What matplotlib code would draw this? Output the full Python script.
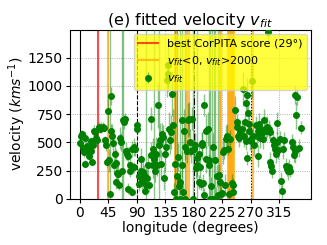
import numpy as np
import matplotlib
matplotlib.use("Agg")
import matplotlib.pyplot as plt

# longitude (deg), fitted velocity (km/s), error (km/s)
lon = [0, 2, 3, 5, 6, 8, 9, 11, 12, 14, 15, 17, 18, 20, 21, 23, 24, 26, 27,
       31, 32, 34, 36, 38, 40, 41, 43, 44, 46, 47, 49, 50, 51, 53, 54, 55, 57,
       58, 59, 61, 62, 64, 65, 66, 68, 70, 71, 73, 74, 76, 77, 79, 80, 82, 83,
       85, 86, 88,
       90, 91, 93, 94, 96, 97, 99, 100, 102, 103, 105, 106, 108, 110, 112, 113,
       115, 116, 118, 119, 121, 122, 124, 125, 127, 129, 130, 131, 133, 134,
       136, 138, 139, 140, 141, 143, 145, 146, 147, 149, 151, 152, 154, 156,
       157, 158, 159, 161, 162, 163, 165, 166, 167, 169, 171, 172, 174, 176,
       177, 179,
       180, 182, 183, 185, 186, 188, 189, 190, 191, 193, 194, 195, 196, 197,
       199, 200, 202, 204, 205, 206, 208, 209, 211, 212, 214, 215, 217, 218,
       220, 221, 223, 225, 227, 228, 230, 231, 233, 235, 236, 238, 240, 242,
       243, 246, 248, 249, 250, 252, 254, 256, 258, 259, 261, 262, 263, 264,
       265, 266, 267, 268, 269, 270, 272, 274, 276, 278, 280, 281, 282, 284,
       285, 287, 288, 290, 291, 294, 296, 297, 299, 300, 301, 302, 304, 305,
       307, 308, 310, 311, 312, 314, 316, 318, 319, 321, 323, 326, 327, 329,
       331, 333, 335, 337, 338, 340, 341, 342, 344, 346, 349]
vel = [490, 560, 570, 450, 410, 310, 540, 430, 470, 380, 440, 510, 420, 330, 480, 600, 590, 540, 520,
       640, 620, 630, 640, 630, 520, 480, 330, 780, 340, 40, 910, 600, 560, 490, 300, 400, 320,
       150, 230, 220, 120, 540, 500, 250, 700, 680, 710, 420, 400, 380, 90, 250, 300, 60, 440,
       460, 280, 440,
       650, 620, 200, 130, 350, 250, 160, 240, 210, 70, 120, 180, 300, 120, 710, 385,
       440, 300, 350, 250, 400, 300, 830, 480, 520, 310, 570, 550, 180, 400,
       460, 1050, 1190, 1110, 620, 520, 590, 930, 650, 60, 310, 0, 200, 370,
       110, 0, 150, 300, 700, 60, 600, 0, 460, 420, 700, 710, 500, 420,
       710, 0,
       445, 480, 270, 357, 300, 150, 400, 280, 130, 490, 475, 136, 830, 33,
       600, 350, 620, 343, 300, 0, 110, 0, 460, 0, 345, 0, 200, 30,
       210, 150, 40, 47, 410, 430, 120, 530, 560, 445, 40, 533, 136, 60,
       120, 790, 640, 680, 560, 540, 600, 620, 970, 560, 680, 850, 510, 920,
       360, 760, 600, 660, 520, 510, 1040, 560, 480, 650, 560, 380, 600, 660,
       540, 620, 580, 530, 700, 600, 640, 1480, 620, 590, 330, 290, 250, 520,
       480, 440, 400, 670, 500, 430, 530, 160, 70, 440, 520, 290, 260, 250,
       280, 250, 500, 460, 390, 420, 920, 740, 905, 450, 630]
err = [40, 50, 40, 50, 40, 30, 50, 40, 60, 40, 50, 40, 60, 30, 40, 50, 40, 50, 60,
       40, 40, 50, 40, 30, 40, 60, 50, 150, 100, 3000, 80, 60, 100, 80, 60, 100, 120,
       60, 80, 80, 40, 100, 80, 3000, 3000, 60, 50, 80, 60, 80, 50, 60, 80, 40, 70,
       80, 50, 60,
       40, 50, 80, 60, 100, 90, 70, 100, 90, 40, 3000, 80, 100, 60, 100, 120,
       100, 120, 3000, 100, 150, 100, 200, 3000, 150, 120, 100, 100, 100, 150,
       100, 150, 200, 150, 150, 120, 150, 200, 150, 80, 3000, 100, 3000, 120,
       80, 3000, 100, 120, 3000, 80, 200, 3000, 120, 100, 150, 150, 120, 100,
       100, 3000,
       80, 100, 90, 3000, 100, 60, 80, 100, 50, 100, 120, 80, 100, 60,
       150, 120, 150, 3000, 100, 3000, 80, 3000, 120, 3000, 3000, 100, 100, 3000,
       100, 80, 80, 40, 100, 80, 100, 120, 100, 60, 50, 80, 80, 40,
       60, 120, 80, 70, 60, 80, 100, 80, 150, 100, 70, 120, 80, 150,
       60, 100, 80, 70, 90, 60, 150, 70, 100, 80, 90, 100, 70, 100,
       90, 80, 70, 90, 100, 80, 90, 100, 80, 70, 80, 60, 70, 90,
       80, 70, 80, 100, 90, 80, 70, 80, 60, 90, 70, 70, 60, 80,
       70, 60, 70, 80, 60, 100, 80, 120, 70, 80, 60]

# longitudes where v_fit < 0 or v_fit > 2000
bad_lon = [44, 150, 153, 170, 173, 221, 223, 235, 236.5, 238, 239.5, 241, 242.5, 244, 274]
best_lon = 29

fig = plt.figure(figsize=(3.27, 2.45), dpi=100)
ax = fig.add_axes([0.213, 0.189, 0.739, 0.69])

ax.axvline(best_lon, color='r', lw=1.5, alpha=0.7, label='best CorPITA score (29°)')
for i, b in enumerate(bad_lon):
    ax.axvline(b, color='orange', lw=1.5, alpha=0.7,
               label=r'$v_{fit}$<0, $v_{fit}$>2000' if i == 0 else None)

ax.axvline(0, color='k', lw=0.8)
ax.axvline(90, color='k', lw=0.8, ls='--')
ax.axvline(180, color='k', lw=0.8, ls='-.')
ax.axvline(270, color='k', lw=0.8, ls=':')

ax.errorbar(lon, vel, yerr=err, fmt='o', color='green', ms=4,
            ecolor=(0, 0.5, 0, 0.45), elinewidth=1, label='$v_{fit}$', zorder=3)

ax.set_xlim(-16, 366)
ax.set_ylim(0, 1500)
ax.set_xticks(np.arange(0, 360, 45))
ax.set_yticks([0, 250, 500, 750, 1000, 1250])
ax.tick_params(labelsize=10, length=3, pad=2)
ax.grid(True, ls=':', color='0.6', lw=0.6)
ax.set_xlabel('longitude (degrees)', fontsize=10, labelpad=1)
ax.set_ylabel('velocity ($kms^{-1}$)', fontsize=10, labelpad=0)
ax.set_title('(e) fitted velocity $v_{fit}$', fontsize=11.5, pad=1)

leg = ax.legend(loc='upper right', fontsize=8, facecolor='yellow', framealpha=0.75,
                edgecolor='0.8', borderaxespad=0.4, handlelength=1.8)

fig.savefig('out.png', dpi=100)
